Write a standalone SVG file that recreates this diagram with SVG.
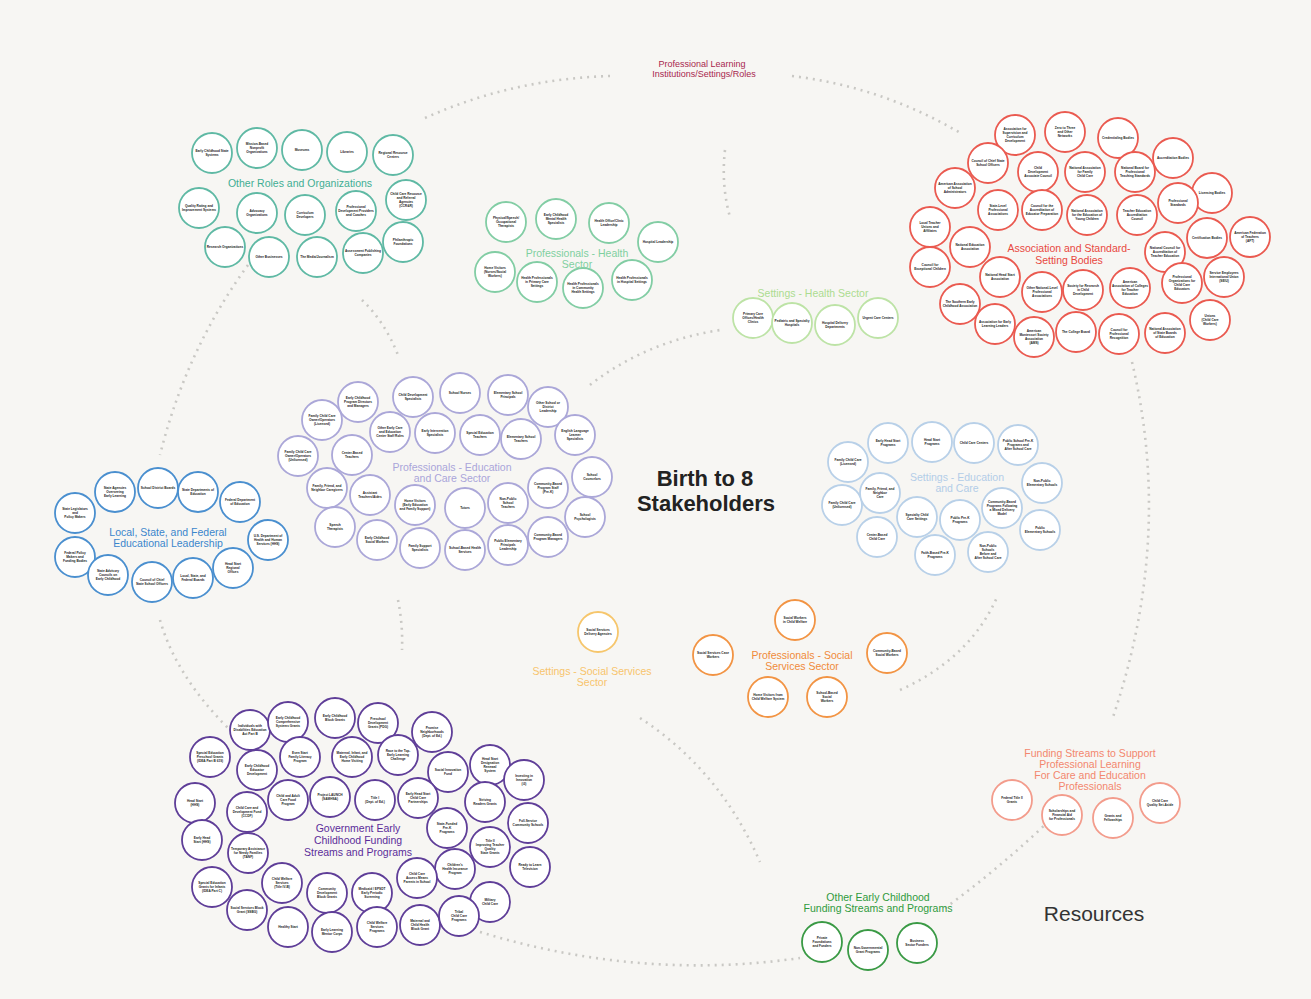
<svg xmlns="http://www.w3.org/2000/svg" width="1311" height="999" viewBox="0 0 1311 999">
<style>
text{font-family:"Liberation Sans",Arial,sans-serif}
.n circle{fill:#fff;stroke-width:1.8}
.t{font-size:3.2px;font-weight:bold;fill:#222;text-anchor:middle}
.lb{font-size:10.5px;text-anchor:middle}
.dot{fill:none;stroke:#c9c8c4;stroke-width:2.6;stroke-dasharray:2 5}
.or circle{stroke:#5fb9a4}.orl{fill:#3fae93}
.hp circle{stroke:#82cda4}.hpl{fill:#7fd0a0}
.hs circle{stroke:#bde3a6}.hsl{fill:#acdc90}
.as circle{stroke:#ea5a50}.asl{fill:#e8483f}
.ec circle{stroke:#aba7d8}.ecl{fill:#aaa5da}
.ls circle{stroke:#4a8fcf}.lsl{fill:#3b86cc}
.se circle{stroke:#b8d0e8}.sel{fill:#b3cde8}
.g circle{stroke:#5f3e98}.gl{fill:#5b2d9a}
.ss circle{stroke:#f6c66c}.ssl{fill:#f7c46c}
.ps circle{stroke:#f29444}.psl{fill:#f08a3a}
.fp circle{stroke:#f39c8c}.fpl{fill:#f3876e}
.oe circle{stroke:#3a9a45}.oel{fill:#2f9a3c}
</style>
<rect width="1311" height="999" fill="#f7f6f3"/>

<g id="connectors">
<path class="dot" d="M425,118 Q512,79 610,76"/>
<path class="dot" d="M792,76 Q883,87 962,134"/>
<path class="dot" d="M1132,362 Q1174,539 1112,720"/>
<path class="dot" d="M945,908 Q1000,868 1050,820"/>
<path class="dot" d="M480,932 Q640,981 800,958"/>
<path class="dot" d="M248,265 Q186,350 160,455"/>
<path class="dot" d="M160,620 Q176,676 228,728"/>
<path class="dot" d="M362,300 Q385,322 398,355"/>
<path class="dot" d="M725,150 Q721,185 730,217"/>
<path class="dot" d="M590,385 Q645,342 720,330"/>
<path class="dot" d="M398,600 Q403,625 402,650"/>
<path class="dot" d="M640,718 Q720,770 760,862"/>
<path class="dot" d="M900,690 Q971,658 998,595"/>
</g>

<g id="center"><text x="705" y="486" text-anchor="middle" font-size="22" font-weight="bold" fill="#222">Birth to 8</text><text x="706" y="511" text-anchor="middle" font-size="22" font-weight="bold" fill="#222">Stakeholders</text></g>
<g id="resources"><text x="1094" y="921" text-anchor="middle" font-size="21" fill="#333">Resources</text></g>
<g id="prof-learning"><text x="702" y="67" text-anchor="middle" font-size="9" fill="#a8264e">Professional Learning</text><text x="704" y="77" text-anchor="middle" font-size="9" fill="#a8264e">Institutions/Settings/Roles</text></g>

<!-- Other Roles and Organizations -->
<g id="other-roles" class="or">
<g id="or1" class="n"><circle cx="212" cy="153" r="20"/><text class="t" y="153"><tspan x="212" dy="-0.8">Early Childhood State</tspan><tspan x="212" dy="3.8">Systems</tspan></text></g>
<g id="or2" class="n"><circle cx="257" cy="148" r="20"/><text class="t" y="148"><tspan x="257" dy="-2.7">Mission-Based</tspan><tspan x="257" dy="3.8">Nonprofit</tspan><tspan x="257" dy="3.8">Organizations</tspan></text></g>
<g id="or3" class="n"><circle cx="302" cy="150" r="20"/><text class="t" y="150"><tspan x="302" dy="1.1">Museums</tspan></text></g>
<g id="or4" class="n"><circle cx="347" cy="152" r="20"/><text class="t" y="152"><tspan x="347" dy="1.1">Libraries</tspan></text></g>
<g id="or5" class="n"><circle cx="393" cy="155" r="20"/><text class="t" y="155"><tspan x="393" dy="-0.8">Regional Resource</tspan><tspan x="393" dy="3.8">Centers</tspan></text></g>
<g id="or6" class="n"><circle cx="406" cy="200" r="20"/><text class="t" y="200"><tspan x="406" dy="-4.6">Child Care Resource</tspan><tspan x="406" dy="3.8">and Referral</tspan><tspan x="406" dy="3.8">Agencies</tspan><tspan x="406" dy="3.8">(CCR&amp;R)</tspan></text></g>
<g id="or7" class="n"><circle cx="199" cy="208" r="20"/><text class="t" y="208"><tspan x="199" dy="-0.8">Quality Rating and</tspan><tspan x="199" dy="3.8">Improvement Systems</tspan></text></g>
<g id="or8" class="n"><circle cx="257" cy="213" r="20"/><text class="t" y="213"><tspan x="257" dy="-0.8">Advocacy</tspan><tspan x="257" dy="3.8">Organizations</tspan></text></g>
<g id="or9" class="n"><circle cx="305" cy="215" r="20"/><text class="t" y="215"><tspan x="305" dy="-0.8">Curriculum</tspan><tspan x="305" dy="3.8">Developers</tspan></text></g>
<g id="or10" class="n"><circle cx="356" cy="211" r="20"/><text class="t" y="211"><tspan x="356" dy="-2.7">Professional</tspan><tspan x="356" dy="3.8">Development Providers</tspan><tspan x="356" dy="3.8">and Coaches</tspan></text></g>
<g id="or11" class="n"><circle cx="225" cy="247" r="20"/><text class="t" y="247"><tspan x="225" dy="1.1">Research Organizations</tspan></text></g>
<g id="or12" class="n"><circle cx="269" cy="257" r="20"/><text class="t" y="257"><tspan x="269" dy="1.1">Other Businesses</tspan></text></g>
<g id="or13" class="n"><circle cx="317" cy="257" r="20"/><text class="t" y="257"><tspan x="317" dy="1.1">The Media/Journalism</tspan></text></g>
<g id="or14" class="n"><circle cx="363" cy="253" r="20"/><text class="t" y="253"><tspan x="363" dy="-0.8">Assessment Publishing</tspan><tspan x="363" dy="3.8">Companies</tspan></text></g>
<g id="or15" class="n"><circle cx="403" cy="242" r="20"/><text class="t" y="242"><tspan x="403" dy="-0.8">Philanthropic</tspan><tspan x="403" dy="3.8">Foundations</tspan></text></g>
<text class="lb orl" x="300" y="187">Other Roles and Organizations</text>
</g>

<!-- Professionals - Health Sector -->
<g id="prof-health" class="hp">
<g id="hp1" class="n"><circle cx="506" cy="222" r="20"/><text class="t" y="222"><tspan x="506" dy="-2.7">Physical/Speech/</tspan><tspan x="506" dy="3.8">Occupational</tspan><tspan x="506" dy="3.8">Therapists</tspan></text></g>
<g id="hp2" class="n"><circle cx="556" cy="219" r="20"/><text class="t" y="219"><tspan x="556" dy="-2.7">Early Childhood</tspan><tspan x="556" dy="3.8">Mental Health</tspan><tspan x="556" dy="3.8">Specialists</tspan></text></g>
<g id="hp3" class="n"><circle cx="609" cy="223" r="20"/><text class="t" y="223"><tspan x="609" dy="-0.8">Health Office/Clinic</tspan><tspan x="609" dy="3.8">Leadership</tspan></text></g>
<g id="hp4" class="n"><circle cx="658" cy="242" r="20"/><text class="t" y="242"><tspan x="658" dy="1.1">Hospital Leadership</tspan></text></g>
<g id="hp5" class="n"><circle cx="495" cy="272" r="20"/><text class="t" y="272"><tspan x="495" dy="-2.7">Home Visitors</tspan><tspan x="495" dy="3.8">(Nurses/Social</tspan><tspan x="495" dy="3.8">Workers)</tspan></text></g>
<g id="hp6" class="n"><circle cx="537" cy="282" r="20"/><text class="t" y="282"><tspan x="537" dy="-2.7">Health Professionals</tspan><tspan x="537" dy="3.8">in Primary Care</tspan><tspan x="537" dy="3.8">Settings</tspan></text></g>
<g id="hp7" class="n"><circle cx="583" cy="288" r="20"/><text class="t" y="288"><tspan x="583" dy="-2.7">Health Professionals</tspan><tspan x="583" dy="3.8">in Community</tspan><tspan x="583" dy="3.8">Health Settings</tspan></text></g>
<g id="hp8" class="n"><circle cx="632" cy="280" r="20"/><text class="t" y="280"><tspan x="632" dy="-0.8">Health Professionals</tspan><tspan x="632" dy="3.8">in Hospital Settings</tspan></text></g>
<text class="lb hpl" x="577" y="257">Professionals - Health</text>
<text class="lb hpl" x="577" y="268">Sector</text>
</g>

<!-- Settings - Health Sector -->
<g id="settings-health" class="hs">
<g id="hs1" class="n"><circle cx="753" cy="318" r="20"/><text class="t" y="318"><tspan x="753" dy="-2.7">Primary Care</tspan><tspan x="753" dy="3.8">Offices/Health</tspan><tspan x="753" dy="3.8">Clinics</tspan></text></g>
<g id="hs2" class="n"><circle cx="792" cy="323" r="20"/><text class="t" y="323"><tspan x="792" dy="-0.8">Pediatric and Specialty</tspan><tspan x="792" dy="3.8">Hospitals</tspan></text></g>
<g id="hs3" class="n"><circle cx="835" cy="325" r="20"/><text class="t" y="325"><tspan x="835" dy="-0.8">Hospital Delivery</tspan><tspan x="835" dy="3.8">Departments</tspan></text></g>
<g id="hs4" class="n"><circle cx="878" cy="318" r="20"/><text class="t" y="318"><tspan x="878" dy="1.1">Urgent Care Centers</tspan></text></g>
<text class="lb hsl" x="813" y="297">Settings - Health Sector</text>
</g>

<!-- Association and Standard-Setting Bodies -->
<g id="associations" class="as">
<g id="as1" class="n"><circle cx="1015" cy="135" r="20"/><text class="t" y="135"><tspan x="1015" dy="-4.6">Association for</tspan><tspan x="1015" dy="3.8">Supervision and</tspan><tspan x="1015" dy="3.8">Curriculum</tspan><tspan x="1015" dy="3.8">Development</tspan></text></g>
<g id="as2" class="n"><circle cx="1065" cy="132" r="20"/><text class="t" y="132"><tspan x="1065" dy="-2.7">Zero to Three</tspan><tspan x="1065" dy="3.8">and Other</tspan><tspan x="1065" dy="3.8">Networks</tspan></text></g>
<g id="as3" class="n"><circle cx="1118" cy="138" r="20"/><text class="t" y="138"><tspan x="1118" dy="1.1">Credentialing Bodies</tspan></text></g>
<g id="as4" class="n"><circle cx="1173" cy="158" r="20"/><text class="t" y="158"><tspan x="1173" dy="1.1">Accreditation Bodies</tspan></text></g>
<g id="as5" class="n"><circle cx="988" cy="163" r="20"/><text class="t" y="163"><tspan x="988" dy="-0.8">Council of Chief State</tspan><tspan x="988" dy="3.8">School Officers</tspan></text></g>
<g id="as6" class="n"><circle cx="1038" cy="172" r="20"/><text class="t" y="172"><tspan x="1038" dy="-2.7">Child</tspan><tspan x="1038" dy="3.8">Development</tspan><tspan x="1038" dy="3.8">Associate Council</tspan></text></g>
<g id="as7" class="n"><circle cx="1085" cy="172" r="20"/><text class="t" y="172"><tspan x="1085" dy="-2.7">National Association</tspan><tspan x="1085" dy="3.8">for Family</tspan><tspan x="1085" dy="3.8">Child Care</tspan></text></g>
<g id="as8" class="n"><circle cx="1135" cy="172" r="20"/><text class="t" y="172"><tspan x="1135" dy="-2.7">National Board for</tspan><tspan x="1135" dy="3.8">Professional</tspan><tspan x="1135" dy="3.8">Teaching Standards</tspan></text></g>
<g id="as9" class="n"><circle cx="955" cy="188" r="20"/><text class="t" y="188"><tspan x="955" dy="-2.7">American Association</tspan><tspan x="955" dy="3.8">of School</tspan><tspan x="955" dy="3.8">Administrators</tspan></text></g>
<g id="as10" class="n"><circle cx="1212" cy="193" r="20"/><text class="t" y="193"><tspan x="1212" dy="1.1">Licensing Bodies</tspan></text></g>
<g id="as11" class="n"><circle cx="998" cy="210" r="20"/><text class="t" y="210"><tspan x="998" dy="-2.7">State-Level</tspan><tspan x="998" dy="3.8">Professional</tspan><tspan x="998" dy="3.8">Associations</tspan></text></g>
<g id="as12" class="n"><circle cx="1042" cy="210" r="20"/><text class="t" y="210"><tspan x="1042" dy="-2.7">Council for the</tspan><tspan x="1042" dy="3.8">Accreditation of</tspan><tspan x="1042" dy="3.8">Educator Preparation</tspan></text></g>
<g id="as13" class="n"><circle cx="1087" cy="215" r="20"/><text class="t" y="215"><tspan x="1087" dy="-2.7">National Association</tspan><tspan x="1087" dy="3.8">for the Education of</tspan><tspan x="1087" dy="3.8">Young Children</tspan></text></g>
<g id="as14" class="n"><circle cx="1137" cy="215" r="20"/><text class="t" y="215"><tspan x="1137" dy="-2.7">Teacher Education</tspan><tspan x="1137" dy="3.8">Accreditation</tspan><tspan x="1137" dy="3.8">Council</tspan></text></g>
<g id="as15" class="n"><circle cx="1178" cy="203" r="20"/><text class="t" y="203"><tspan x="1178" dy="-0.8">Professional</tspan><tspan x="1178" dy="3.8">Standards</tspan></text></g>
<g id="as16" class="n"><circle cx="930" cy="227" r="20"/><text class="t" y="227"><tspan x="930" dy="-2.7">Local Teacher</tspan><tspan x="930" dy="3.8">Unions and</tspan><tspan x="930" dy="3.8">Affiliates</tspan></text></g>
<g id="as17" class="n"><circle cx="970" cy="247" r="20"/><text class="t" y="247"><tspan x="970" dy="-0.8">National Education</tspan><tspan x="970" dy="3.8">Association</tspan></text></g>
<g id="as18" class="n"><circle cx="1165" cy="252" r="20"/><text class="t" y="252"><tspan x="1165" dy="-2.7">National Council for</tspan><tspan x="1165" dy="3.8">Accreditation of</tspan><tspan x="1165" dy="3.8">Teacher Education</tspan></text></g>
<g id="as19" class="n"><circle cx="1207" cy="238" r="20"/><text class="t" y="238"><tspan x="1207" dy="1.1">Certification Bodies</tspan></text></g>
<g id="as20" class="n"><circle cx="1250" cy="237" r="20"/><text class="t" y="237"><tspan x="1250" dy="-2.7">American Federation</tspan><tspan x="1250" dy="3.8">of Teachers</tspan><tspan x="1250" dy="3.8">(AFT)</tspan></text></g>
<g id="as21" class="n"><circle cx="930" cy="267" r="20"/><text class="t" y="267"><tspan x="930" dy="-0.8">Council for</tspan><tspan x="930" dy="3.8">Exceptional Children</tspan></text></g>
<g id="as22" class="n"><circle cx="1000" cy="277" r="20"/><text class="t" y="277"><tspan x="1000" dy="-0.8">National Head Start</tspan><tspan x="1000" dy="3.8">Association</tspan></text></g>
<g id="as23" class="n"><circle cx="1042" cy="292" r="20"/><text class="t" y="292"><tspan x="1042" dy="-2.7">Other National-Level</tspan><tspan x="1042" dy="3.8">Professional</tspan><tspan x="1042" dy="3.8">Associations</tspan></text></g>
<g id="as24" class="n"><circle cx="1083" cy="290" r="20"/><text class="t" y="290"><tspan x="1083" dy="-2.7">Society for Research</tspan><tspan x="1083" dy="3.8">in Child</tspan><tspan x="1083" dy="3.8">Development</tspan></text></g>
<g id="as25" class="n"><circle cx="1130" cy="288" r="20"/><text class="t" y="288"><tspan x="1130" dy="-4.6">American</tspan><tspan x="1130" dy="3.8">Association of Colleges</tspan><tspan x="1130" dy="3.8">for Teacher</tspan><tspan x="1130" dy="3.8">Education</tspan></text></g>
<g id="as26" class="n"><circle cx="1182" cy="283" r="20"/><text class="t" y="283"><tspan x="1182" dy="-4.6">Professional</tspan><tspan x="1182" dy="3.8">Organizations for</tspan><tspan x="1182" dy="3.8">Child Care</tspan><tspan x="1182" dy="3.8">Educators</tspan></text></g>
<g id="as27" class="n"><circle cx="1224" cy="277" r="20"/><text class="t" y="277"><tspan x="1224" dy="-2.7">Service Employees</tspan><tspan x="1224" dy="3.8">International Union</tspan><tspan x="1224" dy="3.8">(SEIU)</tspan></text></g>
<g id="as28" class="n"><circle cx="960" cy="304" r="20"/><text class="t" y="304"><tspan x="960" dy="-0.8">The Southern Early</tspan><tspan x="960" dy="3.8">Childhood Association</tspan></text></g>
<g id="as29" class="n"><circle cx="995" cy="324" r="20"/><text class="t" y="324"><tspan x="995" dy="-0.8">Association for Early</tspan><tspan x="995" dy="3.8">Learning Leaders</tspan></text></g>
<g id="as30" class="n"><circle cx="1034" cy="337" r="20"/><text class="t" y="337"><tspan x="1034" dy="-4.6">American</tspan><tspan x="1034" dy="3.8">Montessori Society</tspan><tspan x="1034" dy="3.8">Association</tspan><tspan x="1034" dy="3.8">(AMS)</tspan></text></g>
<g id="as31" class="n"><circle cx="1076" cy="332" r="20"/><text class="t" y="332"><tspan x="1076" dy="1.1">The College Board</tspan></text></g>
<g id="as32" class="n"><circle cx="1119" cy="334" r="20"/><text class="t" y="334"><tspan x="1119" dy="-2.7">Council for</tspan><tspan x="1119" dy="3.8">Professional</tspan><tspan x="1119" dy="3.8">Recognition</tspan></text></g>
<g id="as33" class="n"><circle cx="1165" cy="333" r="20"/><text class="t" y="333"><tspan x="1165" dy="-2.7">National Association</tspan><tspan x="1165" dy="3.8">of State Boards</tspan><tspan x="1165" dy="3.8">of Education</tspan></text></g>
<g id="as34" class="n"><circle cx="1210" cy="320" r="20"/><text class="t" y="320"><tspan x="1210" dy="-2.7">Unions</tspan><tspan x="1210" dy="3.8">(Child Care</tspan><tspan x="1210" dy="3.8">Workers)</tspan></text></g>
<text class="lb asl" x="1069" y="252">Association and Standard-</text>
<text class="lb asl" x="1069" y="264">Setting Bodies</text>
</g>

<!-- Professionals - Education and Care Sector -->
<g id="prof-education" class="ec">
<g id="ec1" class="n"><circle cx="358" cy="402" r="20"/><text class="t" y="402"><tspan x="358" dy="-2.7">Early Childhood</tspan><tspan x="358" dy="3.8">Program Directors</tspan><tspan x="358" dy="3.8">and Managers</tspan></text></g>
<g id="ec2" class="n"><circle cx="413" cy="397" r="20"/><text class="t" y="397"><tspan x="413" dy="-0.8">Child Development</tspan><tspan x="413" dy="3.8">Specialists</tspan></text></g>
<g id="ec3" class="n"><circle cx="460" cy="393" r="20"/><text class="t" y="393"><tspan x="460" dy="1.1">School Nurses</tspan></text></g>
<g id="ec4" class="n"><circle cx="508" cy="395" r="20"/><text class="t" y="395"><tspan x="508" dy="-0.8">Elementary School</tspan><tspan x="508" dy="3.8">Principals</tspan></text></g>
<g id="ec5" class="n"><circle cx="548" cy="407" r="20"/><text class="t" y="407"><tspan x="548" dy="-2.7">Other School or</tspan><tspan x="548" dy="3.8">District</tspan><tspan x="548" dy="3.8">Leadership</tspan></text></g>
<g id="ec6" class="n"><circle cx="322" cy="420" r="20"/><text class="t" y="420"><tspan x="322" dy="-2.7">Family Child Care</tspan><tspan x="322" dy="3.8">Owner/Operators</tspan><tspan x="322" dy="3.8">(Licensed)</tspan></text></g>
<g id="ec7" class="n"><circle cx="390" cy="432" r="20"/><text class="t" y="432"><tspan x="390" dy="-2.7">Other Early Care</tspan><tspan x="390" dy="3.8">and Education</tspan><tspan x="390" dy="3.8">Center Staff Roles</tspan></text></g>
<g id="ec8" class="n"><circle cx="435" cy="433" r="20"/><text class="t" y="433"><tspan x="435" dy="-0.8">Early Intervention</tspan><tspan x="435" dy="3.8">Specialists</tspan></text></g>
<g id="ec9" class="n"><circle cx="480" cy="435" r="20"/><text class="t" y="435"><tspan x="480" dy="-0.8">Special Education</tspan><tspan x="480" dy="3.8">Teachers</tspan></text></g>
<g id="ec10" class="n"><circle cx="521" cy="439" r="20"/><text class="t" y="439"><tspan x="521" dy="-0.8">Elementary School</tspan><tspan x="521" dy="3.8">Teachers</tspan></text></g>
<g id="ec11" class="n"><circle cx="575" cy="435" r="20"/><text class="t" y="435"><tspan x="575" dy="-2.7">English Language</tspan><tspan x="575" dy="3.8">Learner</tspan><tspan x="575" dy="3.8">Specialists</tspan></text></g>
<g id="ec12" class="n"><circle cx="298" cy="456" r="20"/><text class="t" y="456"><tspan x="298" dy="-2.7">Family Child Care</tspan><tspan x="298" dy="3.8">Owner/Operators</tspan><tspan x="298" dy="3.8">(Unlicensed)</tspan></text></g>
<g id="ec13" class="n"><circle cx="352" cy="455" r="20"/><text class="t" y="455"><tspan x="352" dy="-0.8">Center-Based</tspan><tspan x="352" dy="3.8">Teachers</tspan></text></g>
<g id="ec14" class="n"><circle cx="592" cy="477" r="20"/><text class="t" y="477"><tspan x="592" dy="-0.8">School</tspan><tspan x="592" dy="3.8">Counselors</tspan></text></g>
<g id="ec15" class="n"><circle cx="327" cy="488" r="20"/><text class="t" y="488"><tspan x="327" dy="-0.8">Family, Friend, and</tspan><tspan x="327" dy="3.8">Neighbor Caregivers</tspan></text></g>
<g id="ec16" class="n"><circle cx="370" cy="495" r="20"/><text class="t" y="495"><tspan x="370" dy="-0.8">Assistant</tspan><tspan x="370" dy="3.8">Teachers/Aides</tspan></text></g>
<g id="ec17" class="n"><circle cx="415" cy="505" r="20"/><text class="t" y="505"><tspan x="415" dy="-2.7">Home Visitors</tspan><tspan x="415" dy="3.8">(Early Education</tspan><tspan x="415" dy="3.8">and Family Support)</tspan></text></g>
<g id="ec18" class="n"><circle cx="465" cy="508" r="20"/><text class="t" y="508"><tspan x="465" dy="1.1">Tutors</tspan></text></g>
<g id="ec19" class="n"><circle cx="508" cy="503" r="20"/><text class="t" y="503"><tspan x="508" dy="-2.7">Non-Public</tspan><tspan x="508" dy="3.8">School</tspan><tspan x="508" dy="3.8">Teachers</tspan></text></g>
<g id="ec20" class="n"><circle cx="548" cy="488" r="20"/><text class="t" y="488"><tspan x="548" dy="-2.7">Community-Based</tspan><tspan x="548" dy="3.8">Program Staff</tspan><tspan x="548" dy="3.8">(Pre-K)</tspan></text></g>
<g id="ec21" class="n"><circle cx="585" cy="517" r="20"/><text class="t" y="517"><tspan x="585" dy="-0.8">School</tspan><tspan x="585" dy="3.8">Psychologists</tspan></text></g>
<g id="ec22" class="n"><circle cx="335" cy="527" r="20"/><text class="t" y="527"><tspan x="335" dy="-0.8">Speech</tspan><tspan x="335" dy="3.8">Therapists</tspan></text></g>
<g id="ec23" class="n"><circle cx="377" cy="540" r="20"/><text class="t" y="540"><tspan x="377" dy="-0.8">Early Childhood</tspan><tspan x="377" dy="3.8">Social Workers</tspan></text></g>
<g id="ec24" class="n"><circle cx="420" cy="548" r="20"/><text class="t" y="548"><tspan x="420" dy="-0.8">Family Support</tspan><tspan x="420" dy="3.8">Specialists</tspan></text></g>
<g id="ec25" class="n"><circle cx="465" cy="550" r="20"/><text class="t" y="550"><tspan x="465" dy="-0.8">School-Based Health</tspan><tspan x="465" dy="3.8">Services</tspan></text></g>
<g id="ec26" class="n"><circle cx="508" cy="545" r="20"/><text class="t" y="545"><tspan x="508" dy="-2.7">Public Elementary</tspan><tspan x="508" dy="3.8">Principals</tspan><tspan x="508" dy="3.8">Leadership</tspan></text></g>
<g id="ec27" class="n"><circle cx="548" cy="537" r="20"/><text class="t" y="537"><tspan x="548" dy="-0.8">Community-Based</tspan><tspan x="548" dy="3.8">Program Managers</tspan></text></g>
<text class="lb ecl" x="452" y="471">Professionals - Education</text>
<text class="lb ecl" x="452" y="482">and Care Sector</text>
</g>

<!-- Local, State, and Federal Educational Leadership -->
<g id="local-state-federal" class="ls">
<g id="ls1" class="n"><circle cx="75" cy="513" r="20"/><text class="t" y="513"><tspan x="75" dy="-2.7">State Legislators</tspan><tspan x="75" dy="3.8">and</tspan><tspan x="75" dy="3.8">Policy Makers</tspan></text></g>
<g id="ls2" class="n"><circle cx="115" cy="492" r="20"/><text class="t" y="492"><tspan x="115" dy="-2.7">State Agencies</tspan><tspan x="115" dy="3.8">Overseeing</tspan><tspan x="115" dy="3.8">Early Learning</tspan></text></g>
<g id="ls3" class="n"><circle cx="158" cy="488" r="20"/><text class="t" y="488"><tspan x="158" dy="1.1">School District Boards</tspan></text></g>
<g id="ls4" class="n"><circle cx="198" cy="492" r="20"/><text class="t" y="492"><tspan x="198" dy="-0.8">State Departments of</tspan><tspan x="198" dy="3.8">Education</tspan></text></g>
<g id="ls5" class="n"><circle cx="240" cy="502" r="20"/><text class="t" y="502"><tspan x="240" dy="-0.8">Federal Department</tspan><tspan x="240" dy="3.8">of Education</tspan></text></g>
<g id="ls6" class="n"><circle cx="268" cy="540" r="20"/><text class="t" y="540"><tspan x="268" dy="-2.7">U.S. Department of</tspan><tspan x="268" dy="3.8">Health and Human</tspan><tspan x="268" dy="3.8">Services (HHS)</tspan></text></g>
<g id="ls7" class="n"><circle cx="75" cy="557" r="20"/><text class="t" y="557"><tspan x="75" dy="-2.7">Federal Policy</tspan><tspan x="75" dy="3.8">Makers and</tspan><tspan x="75" dy="3.8">Funding Bodies</tspan></text></g>
<g id="ls8" class="n"><circle cx="108" cy="575" r="20"/><text class="t" y="575"><tspan x="108" dy="-2.7">State Advisory</tspan><tspan x="108" dy="3.8">Councils on</tspan><tspan x="108" dy="3.8">Early Childhood</tspan></text></g>
<g id="ls9" class="n"><circle cx="152" cy="582" r="20"/><text class="t" y="582"><tspan x="152" dy="-0.8">Council of Chief</tspan><tspan x="152" dy="3.8">State School Officers</tspan></text></g>
<g id="ls10" class="n"><circle cx="193" cy="578" r="20"/><text class="t" y="578"><tspan x="193" dy="-0.8">Local, State, and</tspan><tspan x="193" dy="3.8">Federal Boards</tspan></text></g>
<g id="ls11" class="n"><circle cx="233" cy="568" r="20"/><text class="t" y="568"><tspan x="233" dy="-2.7">Head Start</tspan><tspan x="233" dy="3.8">Regional</tspan><tspan x="233" dy="3.8">Offices</tspan></text></g>
<text class="lb lsl" x="168" y="536">Local, State, and Federal</text>
<text class="lb lsl" x="168" y="547">Educational Leadership</text>
</g>

<!-- Settings - Education and Care -->
<g id="settings-education" class="se">
<g id="se1" class="n"><circle cx="848" cy="462" r="20"/><text class="t" y="462"><tspan x="848" dy="-0.8">Family Child Care</tspan><tspan x="848" dy="3.8">(Licensed)</tspan></text></g>
<g id="se2" class="n"><circle cx="888" cy="443" r="20"/><text class="t" y="443"><tspan x="888" dy="-0.8">Early Head Start</tspan><tspan x="888" dy="3.8">Programs</tspan></text></g>
<g id="se3" class="n"><circle cx="932" cy="442" r="20"/><text class="t" y="442"><tspan x="932" dy="-0.8">Head Start</tspan><tspan x="932" dy="3.8">Programs</tspan></text></g>
<g id="se4" class="n"><circle cx="974" cy="443" r="20"/><text class="t" y="443"><tspan x="974" dy="1.1">Child Care Centers</tspan></text></g>
<g id="se5" class="n"><circle cx="1018" cy="445" r="20"/><text class="t" y="445"><tspan x="1018" dy="-2.7">Public School Pre-K</tspan><tspan x="1018" dy="3.8">Programs and</tspan><tspan x="1018" dy="3.8">After School Care</tspan></text></g>
<g id="se6" class="n"><circle cx="1042" cy="483" r="20"/><text class="t" y="483"><tspan x="1042" dy="-0.8">Non-Public</tspan><tspan x="1042" dy="3.8">Elementary Schools</tspan></text></g>
<g id="se7" class="n"><circle cx="842" cy="505" r="20"/><text class="t" y="505"><tspan x="842" dy="-0.8">Family Child Care</tspan><tspan x="842" dy="3.8">(Unlicensed)</tspan></text></g>
<g id="se8" class="n"><circle cx="880" cy="493" r="20"/><text class="t" y="493"><tspan x="880" dy="-2.7">Family, Friend, and</tspan><tspan x="880" dy="3.8">Neighbor</tspan><tspan x="880" dy="3.8">Care</tspan></text></g>
<g id="se9" class="n"><circle cx="917" cy="517" r="20"/><text class="t" y="517"><tspan x="917" dy="-0.8">Specialty Child</tspan><tspan x="917" dy="3.8">Care Settings</tspan></text></g>
<g id="se10" class="n"><circle cx="960" cy="520" r="20"/><text class="t" y="520"><tspan x="960" dy="-0.8">Public Pre-K</tspan><tspan x="960" dy="3.8">Programs</tspan></text></g>
<g id="se11" class="n"><circle cx="1002" cy="508" r="20"/><text class="t" y="508"><tspan x="1002" dy="-4.6">Community-Based</tspan><tspan x="1002" dy="3.8">Programs Following</tspan><tspan x="1002" dy="3.8">a Mixed Delivery</tspan><tspan x="1002" dy="3.8">Model</tspan></text></g>
<g id="se12" class="n"><circle cx="1040" cy="530" r="20"/><text class="t" y="530"><tspan x="1040" dy="-0.8">Public</tspan><tspan x="1040" dy="3.8">Elementary Schools</tspan></text></g>
<g id="se13" class="n"><circle cx="877" cy="537" r="20"/><text class="t" y="537"><tspan x="877" dy="-0.8">Center-Based</tspan><tspan x="877" dy="3.8">Child Care</tspan></text></g>
<g id="se14" class="n"><circle cx="935" cy="555" r="20"/><text class="t" y="555"><tspan x="935" dy="-0.8">Faith-Based Pre-K</tspan><tspan x="935" dy="3.8">Programs</tspan></text></g>
<g id="se15" class="n"><circle cx="988" cy="552" r="20"/><text class="t" y="552"><tspan x="988" dy="-4.6">Non-Public</tspan><tspan x="988" dy="3.8">Schools</tspan><tspan x="988" dy="3.8">Before and</tspan><tspan x="988" dy="3.8">After School Care</tspan></text></g>
<text class="lb sel" x="957" y="481">Settings - Education</text>
<text class="lb sel" x="957" y="492">and Care</text>
</g>

<!-- Government Early Childhood Funding Streams and Programs -->
<g id="gov-funding" class="g">
<g id="g1" class="n"><circle cx="250" cy="730" r="20"/><text class="t" y="730"><tspan x="250" dy="-2.7">Individuals with</tspan><tspan x="250" dy="3.8">Disabilities Education</tspan><tspan x="250" dy="3.8">Act Part B</tspan></text></g>
<g id="g2" class="n"><circle cx="288" cy="722" r="20"/><text class="t" y="722"><tspan x="288" dy="-2.7">Early Childhood</tspan><tspan x="288" dy="3.8">Comprehensive</tspan><tspan x="288" dy="3.8">Systems Grants</tspan></text></g>
<g id="g3" class="n"><circle cx="335" cy="718" r="20"/><text class="t" y="718"><tspan x="335" dy="-0.8">Early Childhood</tspan><tspan x="335" dy="3.8">Block Grants</tspan></text></g>
<g id="g4" class="n"><circle cx="378" cy="723" r="20"/><text class="t" y="723"><tspan x="378" dy="-2.7">Preschool</tspan><tspan x="378" dy="3.8">Development</tspan><tspan x="378" dy="3.8">Grants (PDG)</tspan></text></g>
<g id="g5" class="n"><circle cx="432" cy="732" r="20"/><text class="t" y="732"><tspan x="432" dy="-2.7">Promise</tspan><tspan x="432" dy="3.8">Neighborhoods</tspan><tspan x="432" dy="3.8">(Dept. of Ed.)</tspan></text></g>
<g id="g6" class="n"><circle cx="210" cy="757" r="20"/><text class="t" y="757"><tspan x="210" dy="-2.7">Special Education</tspan><tspan x="210" dy="3.8">Preschool Grants</tspan><tspan x="210" dy="3.8">(IDEA Part B 619)</tspan></text></g>
<g id="g7" class="n"><circle cx="257" cy="770" r="20"/><text class="t" y="770"><tspan x="257" dy="-2.7">Early Childhood</tspan><tspan x="257" dy="3.8">Educator</tspan><tspan x="257" dy="3.8">Development</tspan></text></g>
<g id="g8" class="n"><circle cx="300" cy="757" r="20"/><text class="t" y="757"><tspan x="300" dy="-2.7">Even Start</tspan><tspan x="300" dy="3.8">Family Literacy</tspan><tspan x="300" dy="3.8">Program</tspan></text></g>
<g id="g9" class="n"><circle cx="352" cy="757" r="20"/><text class="t" y="757"><tspan x="352" dy="-2.7">Maternal, Infant, and</tspan><tspan x="352" dy="3.8">Early Childhood</tspan><tspan x="352" dy="3.8">Home Visiting</tspan></text></g>
<g id="g10" class="n"><circle cx="398" cy="755" r="20"/><text class="t" y="755"><tspan x="398" dy="-2.7">Race to the Top-</tspan><tspan x="398" dy="3.8">Early Learning</tspan><tspan x="398" dy="3.8">Challenge</tspan></text></g>
<g id="g11" class="n"><circle cx="448" cy="772" r="20"/><text class="t" y="772"><tspan x="448" dy="-0.8">Social Innovation</tspan><tspan x="448" dy="3.8">Fund</tspan></text></g>
<g id="g12" class="n"><circle cx="490" cy="765" r="20"/><text class="t" y="765"><tspan x="490" dy="-4.6">Head Start</tspan><tspan x="490" dy="3.8">Designation</tspan><tspan x="490" dy="3.8">Renewal</tspan><tspan x="490" dy="3.8">System</tspan></text></g>
<g id="g13" class="n"><circle cx="524" cy="780" r="20"/><text class="t" y="780"><tspan x="524" dy="-2.7">Investing in</tspan><tspan x="524" dy="3.8">Innovation</tspan><tspan x="524" dy="3.8">(i3)</tspan></text></g>
<g id="g14" class="n"><circle cx="195" cy="803" r="20"/><text class="t" y="803"><tspan x="195" dy="-0.8">Head Start</tspan><tspan x="195" dy="3.8">(HHS)</tspan></text></g>
<g id="g15" class="n"><circle cx="247" cy="812" r="20"/><text class="t" y="812"><tspan x="247" dy="-2.7">Child Care and</tspan><tspan x="247" dy="3.8">Development Fund</tspan><tspan x="247" dy="3.8">(CCDF)</tspan></text></g>
<g id="g16" class="n"><circle cx="288" cy="800" r="20"/><text class="t" y="800"><tspan x="288" dy="-2.7">Child and Adult</tspan><tspan x="288" dy="3.8">Care Food</tspan><tspan x="288" dy="3.8">Program</tspan></text></g>
<g id="g17" class="n"><circle cx="330" cy="797" r="20"/><text class="t" y="797"><tspan x="330" dy="-0.8">Project LAUNCH</tspan><tspan x="330" dy="3.8">(SAMHSA)</tspan></text></g>
<g id="g18" class="n"><circle cx="375" cy="800" r="20"/><text class="t" y="800"><tspan x="375" dy="-0.8">Title I</tspan><tspan x="375" dy="3.8">(Dept. of Ed.)</tspan></text></g>
<g id="g19" class="n"><circle cx="418" cy="798" r="20"/><text class="t" y="798"><tspan x="418" dy="-2.7">Early Head Start</tspan><tspan x="418" dy="3.8">Child Care</tspan><tspan x="418" dy="3.8">Partnerships</tspan></text></g>
<g id="g20" class="n"><circle cx="485" cy="802" r="20"/><text class="t" y="802"><tspan x="485" dy="-0.8">Striving</tspan><tspan x="485" dy="3.8">Readers Grants</tspan></text></g>
<g id="g21" class="n"><circle cx="528" cy="823" r="20"/><text class="t" y="823"><tspan x="528" dy="-0.8">Full-Service</tspan><tspan x="528" dy="3.8">Community Schools</tspan></text></g>
<g id="g22" class="n"><circle cx="447" cy="828" r="20"/><text class="t" y="828"><tspan x="447" dy="-2.7">State-Funded</tspan><tspan x="447" dy="3.8">Pre-K</tspan><tspan x="447" dy="3.8">Programs</tspan></text></g>
<g id="g23" class="n"><circle cx="202" cy="840" r="20"/><text class="t" y="840"><tspan x="202" dy="-0.8">Early Head</tspan><tspan x="202" dy="3.8">Start (HHS)</tspan></text></g>
<g id="g24" class="n"><circle cx="248" cy="853" r="20"/><text class="t" y="853"><tspan x="248" dy="-2.7">Temporary Assistance</tspan><tspan x="248" dy="3.8">for Needy Families</tspan><tspan x="248" dy="3.8">(TANF)</tspan></text></g>
<g id="g25" class="n"><circle cx="490" cy="847" r="20"/><text class="t" y="847"><tspan x="490" dy="-4.6">Title II</tspan><tspan x="490" dy="3.8">Improving Teacher</tspan><tspan x="490" dy="3.8">Quality</tspan><tspan x="490" dy="3.8">State Grants</tspan></text></g>
<g id="g26" class="n"><circle cx="530" cy="867" r="20"/><text class="t" y="867"><tspan x="530" dy="-0.8">Ready to Learn</tspan><tspan x="530" dy="3.8">Television</tspan></text></g>
<g id="g27" class="n"><circle cx="455" cy="869" r="20"/><text class="t" y="869"><tspan x="455" dy="-2.7">Children's</tspan><tspan x="455" dy="3.8">Health Insurance</tspan><tspan x="455" dy="3.8">Program</tspan></text></g>
<g id="g28" class="n"><circle cx="212" cy="887" r="20"/><text class="t" y="887"><tspan x="212" dy="-2.7">Special Education</tspan><tspan x="212" dy="3.8">Grants for Infants</tspan><tspan x="212" dy="3.8">(IDEA Part C)</tspan></text></g>
<g id="g29" class="n"><circle cx="282" cy="883" r="20"/><text class="t" y="883"><tspan x="282" dy="-2.7">Child Welfare</tspan><tspan x="282" dy="3.8">Services</tspan><tspan x="282" dy="3.8">(Title IV-B)</tspan></text></g>
<g id="g30" class="n"><circle cx="327" cy="893" r="20"/><text class="t" y="893"><tspan x="327" dy="-2.7">Community</tspan><tspan x="327" dy="3.8">Development</tspan><tspan x="327" dy="3.8">Block Grants</tspan></text></g>
<g id="g31" class="n"><circle cx="372" cy="893" r="20"/><text class="t" y="893"><tspan x="372" dy="-2.7">Medicaid / EPSDT</tspan><tspan x="372" dy="3.8">Early Periodic</tspan><tspan x="372" dy="3.8">Screening</tspan></text></g>
<g id="g32" class="n"><circle cx="417" cy="878" r="20"/><text class="t" y="878"><tspan x="417" dy="-2.7">Child Care</tspan><tspan x="417" dy="3.8">Access Means</tspan><tspan x="417" dy="3.8">Parents in School</tspan></text></g>
<g id="g33" class="n"><circle cx="490" cy="902" r="20"/><text class="t" y="902"><tspan x="490" dy="-0.8">Military</tspan><tspan x="490" dy="3.8">Child Care</tspan></text></g>
<g id="g34" class="n"><circle cx="247" cy="910" r="20"/><text class="t" y="910"><tspan x="247" dy="-0.8">Social Services Block</tspan><tspan x="247" dy="3.8">Grant (SSBG)</tspan></text></g>
<g id="g35" class="n"><circle cx="288" cy="927" r="20"/><text class="t" y="927"><tspan x="288" dy="1.1">Healthy Start</tspan></text></g>
<g id="g36" class="n"><circle cx="332" cy="932" r="20"/><text class="t" y="932"><tspan x="332" dy="-0.8">Early Learning</tspan><tspan x="332" dy="3.8">Mentor Corps</tspan></text></g>
<g id="g37" class="n"><circle cx="377" cy="927" r="20"/><text class="t" y="927"><tspan x="377" dy="-2.7">Child Welfare</tspan><tspan x="377" dy="3.8">Services</tspan><tspan x="377" dy="3.8">Programs</tspan></text></g>
<g id="g38" class="n"><circle cx="420" cy="925" r="20"/><text class="t" y="925"><tspan x="420" dy="-2.7">Maternal and</tspan><tspan x="420" dy="3.8">Child Health</tspan><tspan x="420" dy="3.8">Block Grant</tspan></text></g>
<g id="g39" class="n"><circle cx="459" cy="916" r="20"/><text class="t" y="916"><tspan x="459" dy="-2.7">Tribal</tspan><tspan x="459" dy="3.8">Child Care</tspan><tspan x="459" dy="3.8">Programs</tspan></text></g>
<text class="lb gl" x="358" y="832">Government Early</text>
<text class="lb gl" x="358" y="844">Childhood Funding</text>
<text class="lb gl" x="358" y="856">Streams and Programs</text>
</g>

<!-- Settings - Social Services Sector -->
<g id="settings-social" class="ss">
<g id="ss1" class="n"><circle cx="598" cy="632" r="20"/><text class="t" y="632"><tspan x="598" dy="-0.8">Social Services</tspan><tspan x="598" dy="3.8">Delivery Agencies</tspan></text></g>
<text class="lb ssl" x="592" y="675">Settings - Social Services</text>
<text class="lb ssl" x="592" y="686">Sector</text>
</g>

<!-- Professionals - Social Services Sector -->
<g id="prof-social" class="ps">
<g id="ps1" class="n"><circle cx="795" cy="620" r="20"/><text class="t" y="620"><tspan x="795" dy="-0.8">Social Workers</tspan><tspan x="795" dy="3.8">in Child Welfare</tspan></text></g>
<g id="ps2" class="n"><circle cx="713" cy="655" r="20"/><text class="t" y="655"><tspan x="713" dy="-0.8">Social Services Case</tspan><tspan x="713" dy="3.8">Workers</tspan></text></g>
<g id="ps3" class="n"><circle cx="887" cy="653" r="20"/><text class="t" y="653"><tspan x="887" dy="-0.8">Community-Based</tspan><tspan x="887" dy="3.8">Social Workers</tspan></text></g>
<g id="ps4" class="n"><circle cx="768" cy="697" r="20"/><text class="t" y="697"><tspan x="768" dy="-0.8">Home Visitors from</tspan><tspan x="768" dy="3.8">Child Welfare System</tspan></text></g>
<g id="ps5" class="n"><circle cx="827" cy="697" r="20"/><text class="t" y="697"><tspan x="827" dy="-2.7">School-Based</tspan><tspan x="827" dy="3.8">Social</tspan><tspan x="827" dy="3.8">Workers</tspan></text></g>
<text class="lb psl" x="802" y="659">Professionals - Social</text>
<text class="lb psl" x="802" y="670">Services Sector</text>
</g>

<!-- Funding Streams to Support Professional Learning -->
<g id="funding-pl" class="fp">
<g id="fp1" class="n"><circle cx="1012" cy="800" r="20"/><text class="t" y="800"><tspan x="1012" dy="-0.8">Federal Title II</tspan><tspan x="1012" dy="3.8">Grants</tspan></text></g>
<g id="fp2" class="n"><circle cx="1062" cy="815" r="20"/><text class="t" y="815"><tspan x="1062" dy="-2.7">Scholarships and</tspan><tspan x="1062" dy="3.8">Financial Aid</tspan><tspan x="1062" dy="3.8">for Professionals</tspan></text></g>
<g id="fp3" class="n"><circle cx="1113" cy="818" r="20"/><text class="t" y="818"><tspan x="1113" dy="-0.8">Grants and</tspan><tspan x="1113" dy="3.8">Fellowships</tspan></text></g>
<g id="fp4" class="n"><circle cx="1160" cy="803" r="20"/><text class="t" y="803"><tspan x="1160" dy="-0.8">Child Care</tspan><tspan x="1160" dy="3.8">Quality Set-Aside</tspan></text></g>
<text class="lb fpl" x="1090" y="757">Funding Streams to Support</text>
<text class="lb fpl" x="1090" y="768">Professional Learning</text>
<text class="lb fpl" x="1090" y="779">For Care and Education</text>
<text class="lb fpl" x="1090" y="790">Professionals</text>
</g>

<!-- Other Early Childhood Funding Streams and Programs -->
<g id="other-ec-funding" class="oe">
<g id="oe1" class="n"><circle cx="822" cy="942" r="20"/><text class="t" y="942"><tspan x="822" dy="-2.7">Private</tspan><tspan x="822" dy="3.8">Foundations</tspan><tspan x="822" dy="3.8">and Funders</tspan></text></g>
<g id="oe2" class="n"><circle cx="868" cy="950" r="20"/><text class="t" y="950"><tspan x="868" dy="-0.8">Non-Governmental</tspan><tspan x="868" dy="3.8">Grant Programs</tspan></text></g>
<g id="oe3" class="n"><circle cx="917" cy="943" r="20"/><text class="t" y="943"><tspan x="917" dy="-0.8">Business</tspan><tspan x="917" dy="3.8">Sector Funders</tspan></text></g>
<text class="lb oel" x="878" y="901">Other Early Childhood</text>
<text class="lb oel" x="878" y="912">Funding Streams and Programs</text>
</g>
</svg>
